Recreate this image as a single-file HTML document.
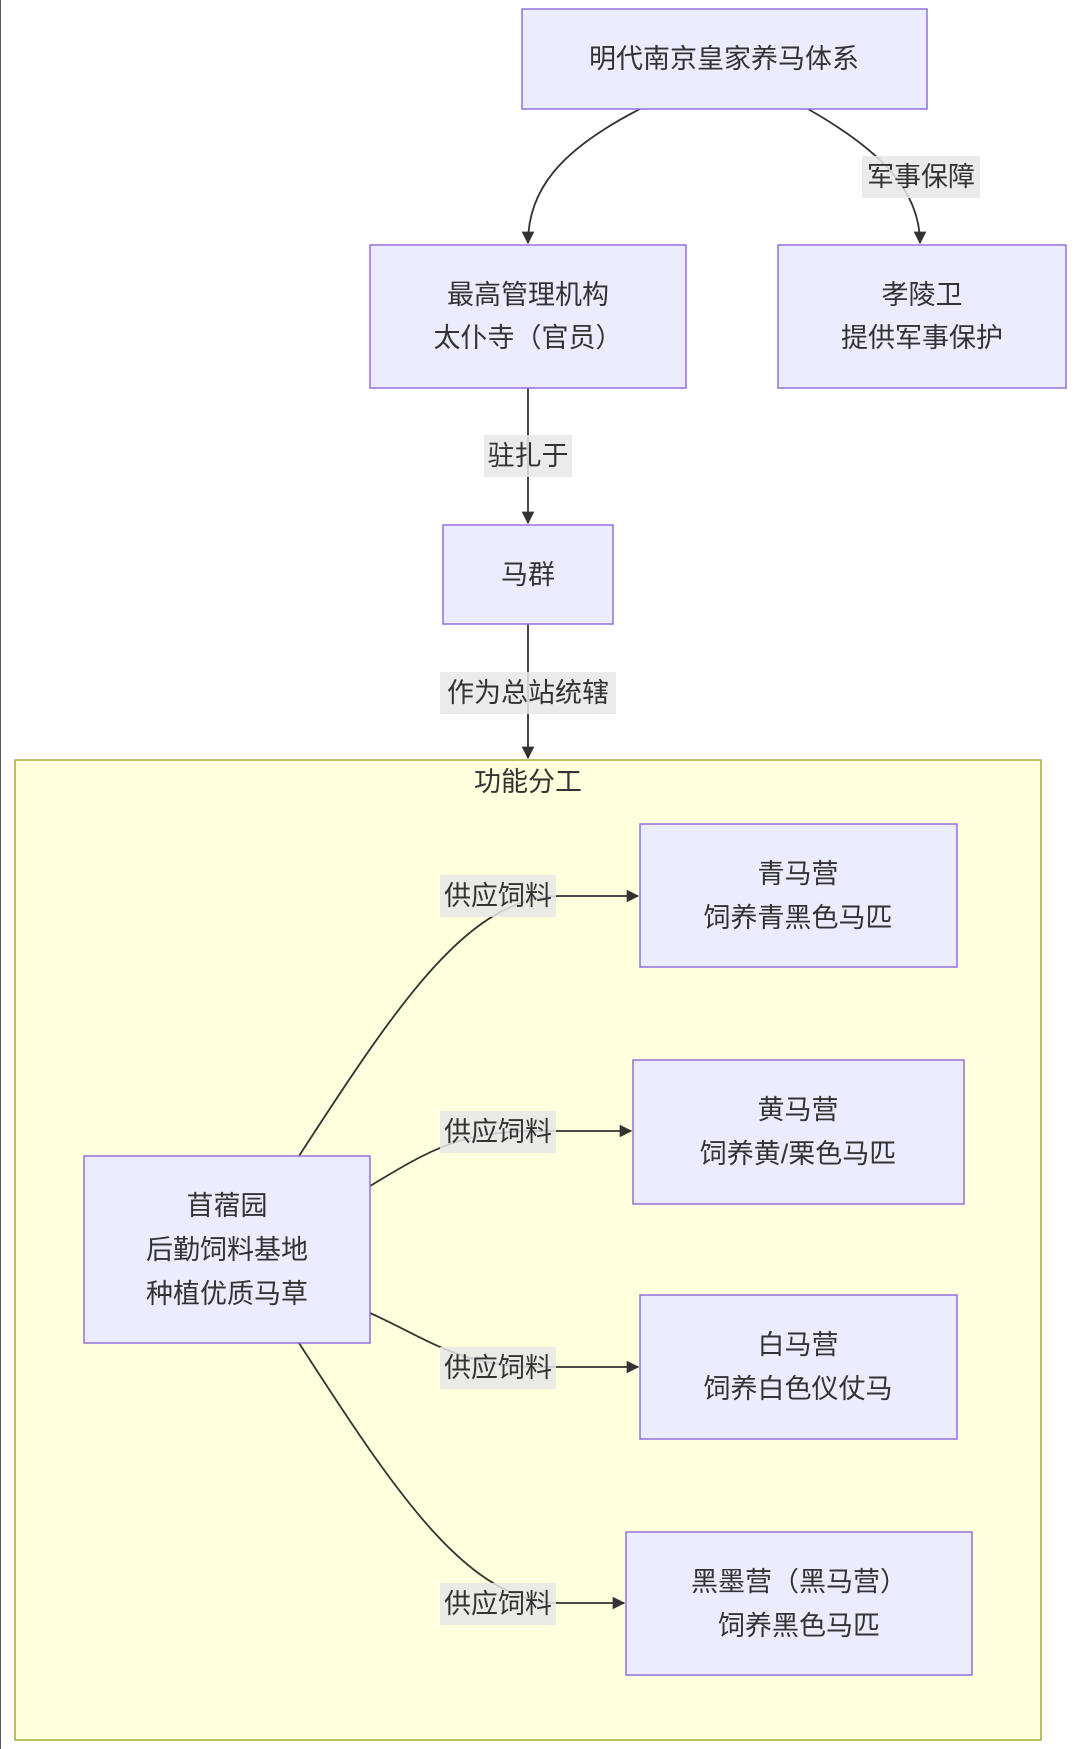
<!DOCTYPE html>
<html><head><meta charset="utf-8"><style>
html,body{margin:0;padding:0;background:#fff;}
svg{display:block;}
text{font-family:"Liberation Sans","Noto Sans CJK SC",sans-serif;font-size:27px;fill:#333;}
.n{fill:#ECECFF;stroke:#9370DB;stroke-width:1.5;}
.e{fill:none;stroke:#333;stroke-width:1.8;}
.lb{fill:rgba(232,232,232,0.85);}
</style></head><body>
<svg width="1080" height="1749" viewBox="0 0 1080 1749" xmlns="http://www.w3.org/2000/svg">
<defs><marker id="a" viewBox="0 0 10 10" refX="9" refY="5" markerWidth="7" markerHeight="7" orient="auto"><path d="M0,0L10,5L0,10z" fill="#333"/></marker></defs>
<line x1="0.5" y1="0" x2="0.5" y2="1749" stroke="#555" stroke-width="1"/>
<rect x="15" y="760" width="1026" height="980" fill="#ffffde" stroke="#aaaa33" stroke-width="1.5"/>
<text x="528" y="791" text-anchor="middle">功能分工</text>

<!-- edges -->
<path class="e" d="M640,109 C560,150 528,190 528,243" marker-end="url(#a)"/>
<path class="e" d="M808,109 C880,150 920,190 920,243" marker-end="url(#a)"/>
<path class="e" d="M528,388 L528,523" marker-end="url(#a)"/>
<path class="e" d="M528,624 L528,758" marker-end="url(#a)"/>
<path class="e" d="M299,1156 C400,1000 470,896 560,896 L638,896" marker-end="url(#a)"/>
<path class="e" d="M370,1186 C430,1150 460,1131 540,1131 L631,1131" marker-end="url(#a)"/>
<path class="e" d="M370,1313 C430,1340 460,1367 540,1367 L638,1367" marker-end="url(#a)"/>
<path class="e" d="M299,1343 C400,1500 470,1603 560,1603 L624,1603" marker-end="url(#a)"/>

<!-- edge labels -->
<rect class="lb" x="862" y="156" width="118" height="42"/><text x="921" y="186" text-anchor="middle">军事保障</text>
<rect class="lb" x="484" y="435" width="88" height="42"/><text x="528" y="465" text-anchor="middle">驻扎于</text>
<rect class="lb" x="440" y="672" width="176" height="42"/><text x="528" y="702" text-anchor="middle">作为总站统辖</text>
<rect class="lb" x="440" y="875" width="116" height="42"/><text x="498" y="905" text-anchor="middle">供应饲料</text>
<rect class="lb" x="440" y="1111" width="116" height="42"/><text x="498" y="1141" text-anchor="middle">供应饲料</text>
<rect class="lb" x="440" y="1347" width="116" height="42"/><text x="498" y="1377" text-anchor="middle">供应饲料</text>
<rect class="lb" x="440" y="1583" width="116" height="42"/><text x="498" y="1613" text-anchor="middle">供应饲料</text>

<!-- nodes -->
<rect class="n" x="522" y="9" width="405" height="100"/>
<text x="724" y="68" text-anchor="middle">明代南京皇家养马体系</text>
<rect class="n" x="370" y="245" width="316" height="143"/>
<text x="528" y="304" text-anchor="middle">最高管理机构</text>
<text x="528" y="347" text-anchor="middle">太仆寺（官员）</text>
<rect class="n" x="778" y="245" width="288" height="143"/>
<text x="922" y="304" text-anchor="middle">孝陵卫</text>
<text x="922" y="347" text-anchor="middle">提供军事保护</text>
<rect class="n" x="443" y="525" width="170" height="99"/>
<text x="528" y="584" text-anchor="middle">马群</text>
<rect class="n" x="84" y="1156" width="286" height="187"/>
<text x="227" y="1215" text-anchor="middle">苜蓿园</text>
<text x="227" y="1259" text-anchor="middle">后勤饲料基地</text>
<text x="227" y="1303" text-anchor="middle">种植优质马草</text>
<rect class="n" x="640" y="824" width="317" height="143"/>
<text x="798" y="883" text-anchor="middle">青马营</text>
<text x="798" y="927" text-anchor="middle">饲养青黑色马匹</text>
<rect class="n" x="633" y="1060" width="331" height="144"/>
<text x="798" y="1119" text-anchor="middle">黄马营</text>
<text x="798" y="1163" text-anchor="middle">饲养黄/栗色马匹</text>
<rect class="n" x="640" y="1295" width="317" height="144"/>
<text x="798" y="1354" text-anchor="middle">白马营</text>
<text x="798" y="1398" text-anchor="middle">饲养白色仪仗马</text>
<rect class="n" x="626" y="1532" width="346" height="143"/>
<text x="799" y="1591" text-anchor="middle">黑墨营（黑马营）</text>
<text x="799" y="1635" text-anchor="middle">饲养黑色马匹</text>
</svg>
</body></html>
